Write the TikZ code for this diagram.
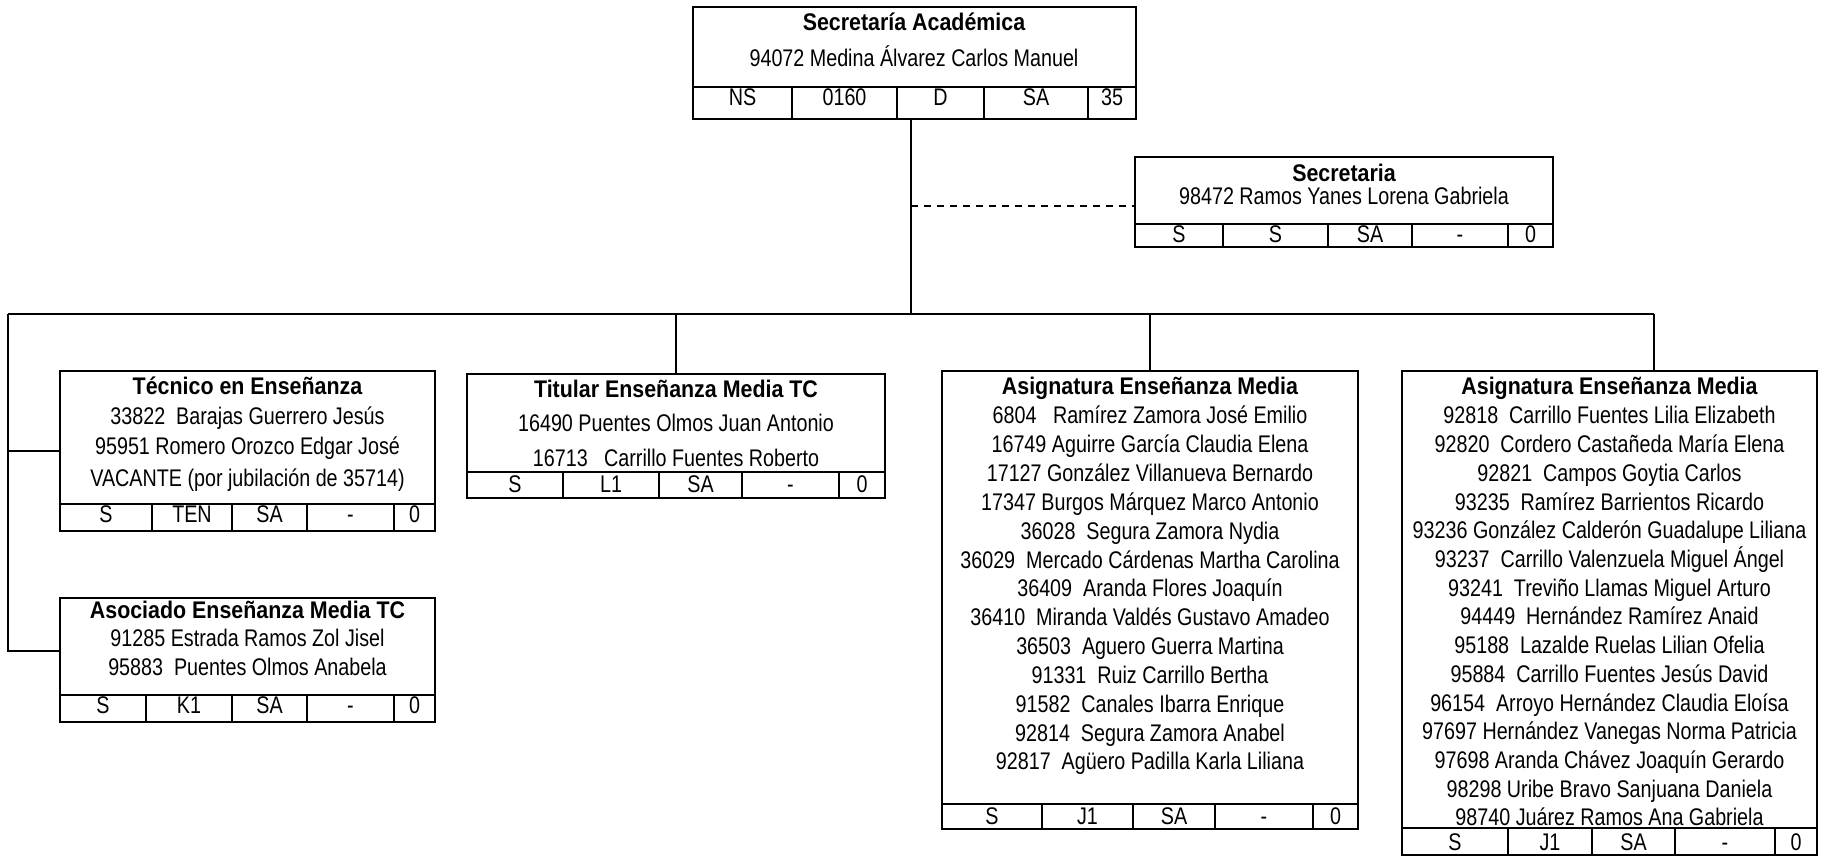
\documentclass[tikz,border=0pt]{standalone}
\usepackage{fontspec}
\setmainfont{Liberation Sans}[FakeStretch=0.82,BoldFeatures={FakeStretch=0.89}]
\tikzset{
  boxst/.style={draw, line width=0.8pt, inner sep=0pt, outer sep=0pt},
  boxline/.style={line width=0.8pt},
  conn/.style={line width=0.5pt},
  dconn/.style={line width=0.8pt, dash pattern=on 2.8pt off 2.4pt},
  txt/.style={anchor=base, inner sep=0pt, font=\fontsize{9.62pt}{11pt}\selectfont},
  ttl/.style={txt, font=\fontsize{9.62pt}{11pt}\selectfont\bfseries},
}
% name, x1, y1, x2, y2
\newcommand\obox[5]{%
  \node[boxst, minimum width={(#4-#2)*0.4pt}, minimum height={(#5-#3)*0.4pt}] (#1) at ({(#2+#4)/2},{(#3+#5)/2}) {};}
% x1, x2, sep y, bottom y, baseline, list of xa/xb/text, dividers
\newcommand\orow[7]{%
  \draw[boxline] (#1,#3) -- (#2,#3);
  \foreach \xx in {#7} {\draw[boxline] (\xx,#3) -- (\xx,#4);}
  \foreach \xa/\xb/\tt in {#6} {\node[txt] at ({(\xa+\xb)/2},#5) {\tt};}}
\begin{document}
\begin{tikzpicture}[x=0.4pt,y=-0.4pt]
\useasboundingbox (0,0) rectangle (1825,857);

% Top box
\obox{sa}{693}{7}{1136}{119}
\node[ttl] (sat) at (914,31) {Secretaría Académica};
\node[txt] (san) at (914,67) {94072 Medina Álvarez Carlos Manuel};
\orow{693}{1136}{87}{119}{106}{693/792/NS,792/897/0160,897/984/D,984/1088/SA,1088/1136/35}{792,897,984,1088}

% Secretaria
\obox{sec}{1135}{157}{1553}{247}
\node[ttl] (sect) at (1344,182) {Secretaria};
\node[txt] (secn) at (1344,205) {98472 Ramos Yanes Lorena Gabriela};
\orow{1135}{1553}{224}{247}{243}{1135/1223/S,1223/1328/S,1328/1412/SA,1412/1508/-,1508/1553/0}{1223,1328,1412,1508}

% Tecnico
\obox{tec}{60}{371}{435}{531}
\node[ttl] (tect) at (247.5,395) {Técnico en Enseñanza};
\node[txt] at (247.5,425) {33822~ Barajas Guerrero Jesús};
\node[txt] at (247.5,455) {95951 Romero Orozco Edgar José};
\node[txt] at (247.5,487) {VACANTE (por jubilación de 35714)};
\orow{60}{435}{504}{531}{523}{60/152/S,152/232/TEN,232/307/SA,307/394/-,394/435/0}{152,232,307,394}

% Asociado
\obox{aso}{60}{598}{435}{722}
\node[ttl] at (247.5,619) {Asociado Enseñanza Media TC};
\node[txt] at (247.5,647) {91285 Estrada Ramos Zol Jisel};
\node[txt] at (247.5,675) {95883~ Puentes Olmos Anabela};
\orow{60}{435}{695}{722}{713}{60/146/S,146/232/K1,232/307/SA,307/394/-,394/435/0}{146,232,307,394}

% Titular
\obox{tit}{467}{374}{885}{498}
\node[ttl] at (676,398) {Titular Enseñanza Media TC};
\node[txt] at (676,432) {16490 Puentes Olmos Juan Antonio};
\node[txt] at (676,467) {16713~~ Carrillo Fuentes Roberto};
\orow{467}{885}{472}{498}{493}{467/563/S,563/659/L1,659/742/SA,742/839/-,839/885/0}{563,659,742,839}

% Asignatura 1
\obox{asa}{942}{371}{1358}{829}
\node[ttl] at (1150,395) {Asignatura Enseñanza Media};
\foreach \t [count=\i from 0] in {6804~~ Ramírez Zamora José Emilio,
  16749 Aguirre García Claudia Elena,
  17127 González Villanueva Bernardo,
  17347 Burgos Márquez Marco Antonio,
  36028~ Segura Zamora Nydia,
  36029~ Mercado Cárdenas Martha Carolina,
  36409~ Aranda Flores Joaquín,
  36410~ Miranda Valdés Gustavo Amadeo,
  36503~ Aguero Guerra Martina,
  91331~ Ruiz Carrillo Bertha,
  91582~ Canales Ibarra Enrique,
  92814~ Segura Zamora Anabel,
  92817~ Agüero Padilla Karla Liliana}
  {\node[txt] at (1150,{424+28.83*\i}) {\t};}
\orow{942}{1358}{804}{829}{824}{942/1042/S,1042/1133/J1,1133/1215/SA,1215/1313/-,1313/1358/0}{1042,1133,1215,1313}

% Asignatura 2
\obox{asb}{1402}{371}{1817}{855}
\node[ttl] at (1609.5,395) {Asignatura Enseñanza Media};
\foreach \t [count=\i from 0] in {92818~ Carrillo Fuentes Lilia Elizabeth,
  92820~ Cordero Castañeda María Elena,
  92821~ Campos Goytia Carlos,
  93235~ Ramírez Barrientos Ricardo,
  93236 González Calderón Guadalupe Liliana,
  93237~ Carrillo Valenzuela Miguel Ángel,
  93241~ Treviño Llamas Miguel Arturo,
  94449~ Hernández Ramírez Anaid,
  95188~ Lazalde Ruelas Lilian Ofelia,
  95884~ Carrillo Fuentes Jesús David,
  96154~ Arroyo Hernández Claudia Eloísa,
  97697 Hernández Vanegas Norma Patricia,
  97698 Aranda Chávez Joaquín Gerardo,
  98298 Uribe Bravo Sanjuana Daniela,
  98740 Juárez Ramos Ana Gabriela}
  {\node[txt] at (1609.5,{424+28.7*\i}) {\t};}
\orow{1402}{1817}{828}{855}{850}{1402/1508/S,1508/1592/J1,1592/1675/SA,1675/1775/-,1775/1817/0}{1508,1592,1675,1775}

% Connectors
\coordinate (j) at (911,314);
\coordinate (bl) at (8,314);
\coordinate (br) at (1654,314);
\coordinate (d) at (911,206);
\coordinate (lt) at (8,451);
\coordinate (la) at (8,651);
\draw[conn] (sa.south -| j) -- (j);
\draw[dconn] (d) -- (d -| sec.west);
\draw[conn] (bl) -- (br);
\draw[conn] (br) -- (br |- asb.north);
\draw[conn] (tit.north |- j) -- (tit.north);
\draw[conn] (asa.north |- j) -- (asa.north);
\draw[conn] (bl) -- (la) -- (la -| aso.west);
\draw[conn] (lt) -- (lt -| tec.west);
\end{tikzpicture}
\end{document}
